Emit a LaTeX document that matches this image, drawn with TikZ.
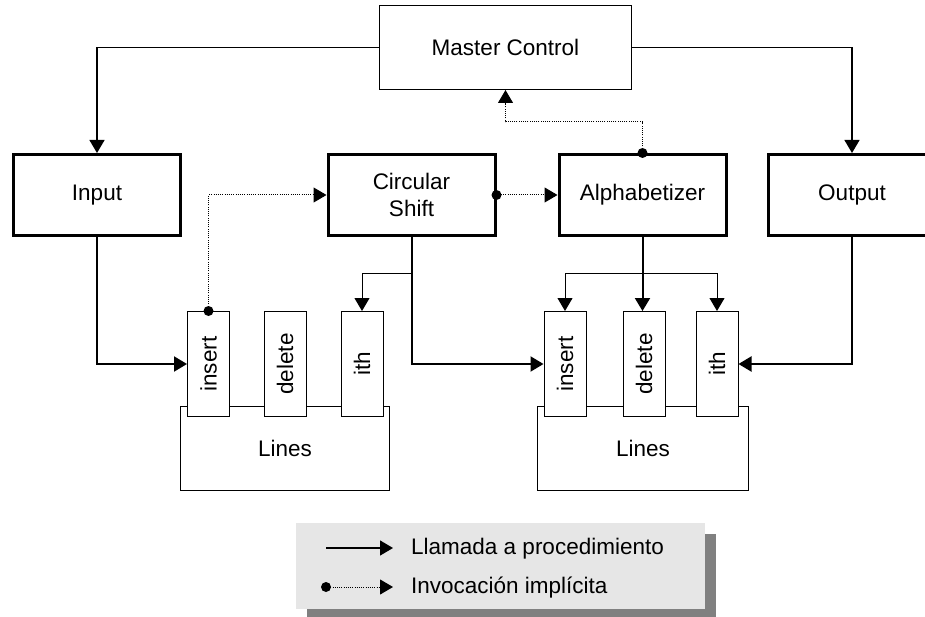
\documentclass[tikz,border=0pt]{standalone}
\usepackage{fontspec}
\setmainfont{Liberation Sans}
\usetikzlibrary{arrows.meta}
\definecolor{legendbg}{HTML}{E6E6E6}
\definecolor{legendshadow}{HTML}{808080}
\tikzset{
  lbl/.style={font=\fontsize{22.5}{27}\selectfont},
  modbox/.style={lbl, draw, line width=3pt, fill=white, minimum width=167pt, minimum height=81pt, inner sep=0pt, align=center},
  thinbox/.style={lbl, draw, line width=1pt, fill=white, inner sep=0pt},
  tab/.style={draw, line width=1pt, fill=white, minimum width=42pt, minimum height=105pt, inner sep=0pt},
  tabtext/.style={lbl, rotate=90, inner sep=0pt},
  tipend/.style={-{Triangle[length=13pt,width=15pt]}},
  call/.style={tipend, line width=1.3pt},
  callthick/.style={tipend, line width=2pt},
  callthin/.style={tipend, line width=1pt},
  implicit/.style={tipend, line width=1pt, dash pattern=on 1pt off 1.2pt},
  dot/.style={fill=black}
}
\begin{document}
\begin{tikzpicture}[x=1pt,y=-1pt]
\useasboundingbox (0,0) rectangle (925,617);

% components
\node[thinbox, minimum width=252pt, minimum height=84pt] (mc) at (505.5,47.5) {Master Control};
\node[modbox] (in)  at (97,195)    {Input};
\node[modbox] (cs)  at (411.5,195) {Circular\\Shift};
\node[modbox] (alf) at (642.5,195) {Alphabetizer};
\node[modbox] (out) at (852,195)   {Output};

% two instances of the Lines module with their procedures
\node[thinbox, minimum width=209pt, minimum height=84pt] (lnA) at (285,448.5) {Lines};
\node[tab] (insA) at (208.5,364) {}; \node[tabtext] at (insA) {insert};
\node[tab] (delA) at (285,364)   {}; \node[tabtext] at (delA) {delete};
\node[tab] (ithA) at (362,364)   {}; \node[tabtext] at (ithA) {ith};

\node[thinbox, minimum width=211pt, minimum height=84pt] (lnB) at (643,448.5) {Lines};
\node[tab] (insB) at (565,364) {}; \node[tabtext] at (insB) {insert};
\node[tab] (delB) at (644,364) {}; \node[tabtext] at (delB) {delete};
\node[tab] (ithB) at (717,364) {}; \node[tabtext] at (ithB) {ith};

% procedure calls from master control
\draw[call] (mc.west) -| (in.north);
\draw[call] (mc.east) -| (out.north);

% calls into the first Lines instance
\draw[callthick] (in.south) |- (insA.west);
\coordinate (csfork) at (cs.south |- 0,274);
\draw[callthin] (csfork) -| (ithA.north);

% calls into the second Lines instance
\draw[callthick] (cs.south) |- (insB.west);
\draw[callthick] (alf.south) -- (alf.south |- delB.north);
\coordinate (alfL) at (insB.north |- 0,274);
\draw[callthin] (alfL) -- (alfL -| ithB.north) -- (ithB.north);
\draw[callthin] (alfL) -- (insB.north);
\draw[callthick] (out.south) |- (ithB.east);

% implicit invocations
\draw[implicit] (insA.north) |- (cs.west);
\fill[dot] (insA.north) circle (5pt);
\draw[implicit] (cs.east) -- (alf.west);
\fill[dot] (cs.east) circle (5pt);
\coordinate (alfup) at (alf.north |- 0,122);
\draw[implicit] (alf.north) -- (alfup) -| (mc.south);
\fill[dot] (alf.north) circle (5pt);

% legend
\fill[legendshadow] (307,534) rectangle (716,620);
\fill[legendbg] (296,523) rectangle (705,609);
\coordinate (k1a) at (326,548); \coordinate (k1b) at (393,548);
\coordinate (k2a) at (326,587); \coordinate (k2b) at (393,587);
\draw[call] (k1a) -- (k1b);
\draw[implicit] (k2a) -- (k2b);
\fill[dot] (k2a) circle (5pt);
\node[lbl, anchor=west, inner sep=0pt] (t1) at (411,549) {Llamada a procedimiento};
\node[lbl, anchor=west, inner sep=0pt] (t2) at (411,588) {Invocación implícita};
\end{tikzpicture}
\end{document}
